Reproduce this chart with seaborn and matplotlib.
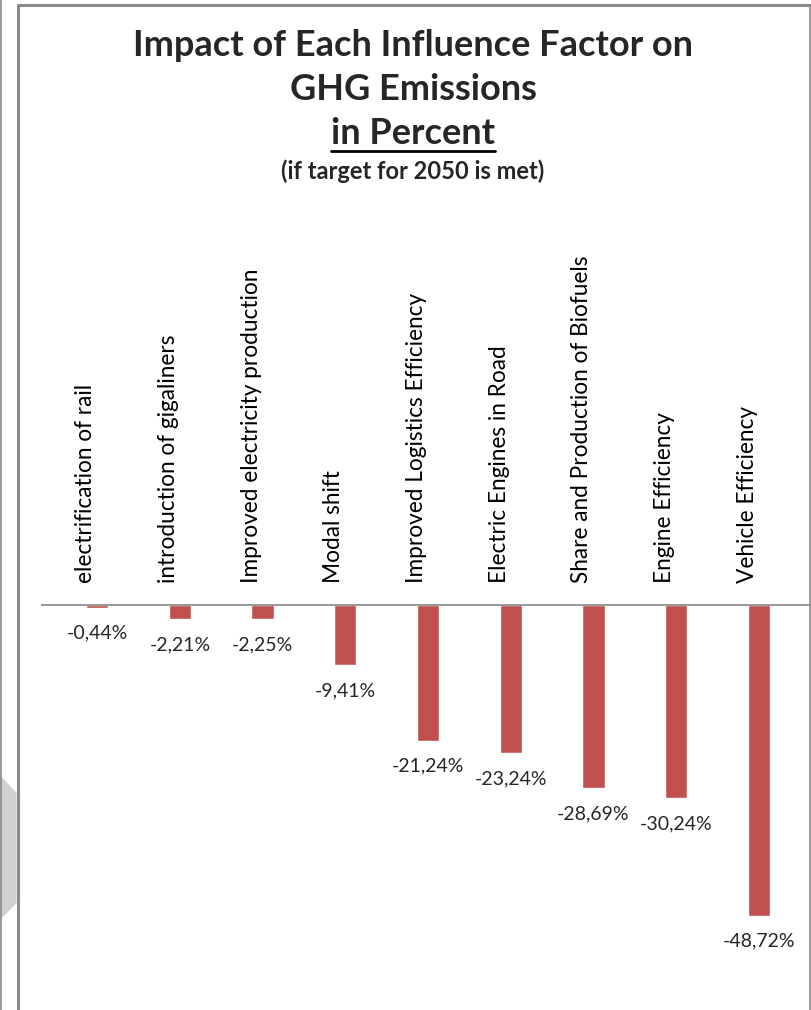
import matplotlib
matplotlib.use("Agg")
import matplotlib.pyplot as plt
from matplotlib.lines import Line2D
from matplotlib.patches import Polygon
import seaborn as sns
import pandas as pd

# Influence factors and their impact on GHG emissions (percent)
factors = [
    "electrification of rail",
    "introduction of gigaliners",
    "Improved electricity production",
    "Modal shift",
    "Improved Logistics Efficiency",
    "Electric Engines in Road",
    "Share and Production of Biofuels",
    "Engine Efficiency",
    "Vehicle Efficiency",
]
impact = [-0.44, -2.21, -2.25, -9.41, -21.24, -23.24, -28.69, -30.24, -48.72]
value_labels = ["-0,44%", "-2,21%", "-2,25%", "-9,41%", "-21,24%",
                "-23,24%", "-28,69%", "-30,24%", "-48,72%"]

title_lines = ["Impact of Each Influence Factor on", "GHG Emissions"]
subtitle = "in Percent"
note = "(if target for 2050 is met)"

sns.set_theme(style="white")
plt.rcParams["font.family"] = ["Lato", "DejaVu Sans"]

W, H = 811, 1010
fig = plt.figure(figsize=(W / 100, H / 100), dpi=100)
fig.patch.set_facecolor("white")


def fx(px):
    return px / W


def fy(py):
    return 1 - py / H


# Axes placed in pixel terms: left 41, right 810, top 240, bottom 990
ax_left, ax_right, ax_top, ax_bot = 41, 810, 240, 990
ax = fig.add_axes([fx(ax_left), fy(ax_bot), fx(ax_right - ax_left), (ax_bot - ax_top) / H])

df = pd.DataFrame({"factor": factors, "impact": impact})
sns.barplot(data=df, x="factor", y="impact", order=factors, color="#C0504D",
            saturation=1, width=0.27, ax=ax)

px_per_unit = 6.38
ax.set_ylim(-(ax_bot - 605) / px_per_unit, (605 - ax_top) / px_per_unit)
ax.set_xlim(-0.68, 8.62)
ax.axhline(0, color="#868686", lw=1.2, zorder=3)

for i, (name, v, lab) in enumerate(zip(factors, impact, value_labels)):
    ax.text(i - 0.14, 3.45, name, rotation=90, ha="center", va="bottom",
            fontsize=16.3, color="black")
    ax.text(i, v - 4.0, lab, ha="center", va="center", fontsize=14, color="#262626")

ax.set_xlabel("")
ax.set_ylabel("")
ax.set_xticks([])
ax.set_yticks([])
for s in ax.spines.values():
    s.set_visible(False)
ax.patch.set_alpha(0)

# Title block
cx = fx(413)
fig.text(cx, fy(45), title_lines[0], ha="center", va="center",
         fontsize=26, fontweight="bold")
fig.text(cx, fy(90), title_lines[1], ha="center", va="center",
         fontsize=26, fontweight="bold")
t = fig.text(cx, fy(133), subtitle, ha="center", va="center",
             fontsize=26, fontweight="bold")
fig.text(cx, fy(171), note, ha="center", va="center",
         fontsize=17, fontweight="bold")

fig.canvas.draw()
bb = t.get_window_extent(fig.canvas.get_renderer())
fig.add_artist(Line2D([bb.x0 / W, bb.x1 / W], [fy(151), fy(151)],
                      transform=fig.transFigure, color="black", lw=2))

# Frame around the chart
frame_color = "#8A8A8A"
fig.add_artist(Line2D([fx(17.5), fx(810)], [fy(5), fy(5)], transform=fig.transFigure,
                      color=frame_color, lw=2.2))
fig.add_artist(Line2D([fx(17.5), fx(17.5)], [fy(5), fy(1010)], transform=fig.transFigure,
                      color=frame_color, lw=2.2))
fig.add_artist(Line2D([fx(810), fx(810)], [fy(5), fy(1010)], transform=fig.transFigure,
                      color=frame_color, lw=1.2))
fig.add_artist(Line2D([fx(0.5), fx(0.5)], [fy(0), fy(1010)], transform=fig.transFigure,
                      color=frame_color, lw=1.2))
fig.add_artist(Polygon([(fx(0), fy(775)), (fx(16.5), fy(793)), (fx(16.5), fy(903)),
                        (fx(0), fy(920))], closed=True, transform=fig.transFigure,
                       facecolor="#D0D0D0", edgecolor="none"))

fig.savefig("out.png", dpi=100, facecolor="white")
